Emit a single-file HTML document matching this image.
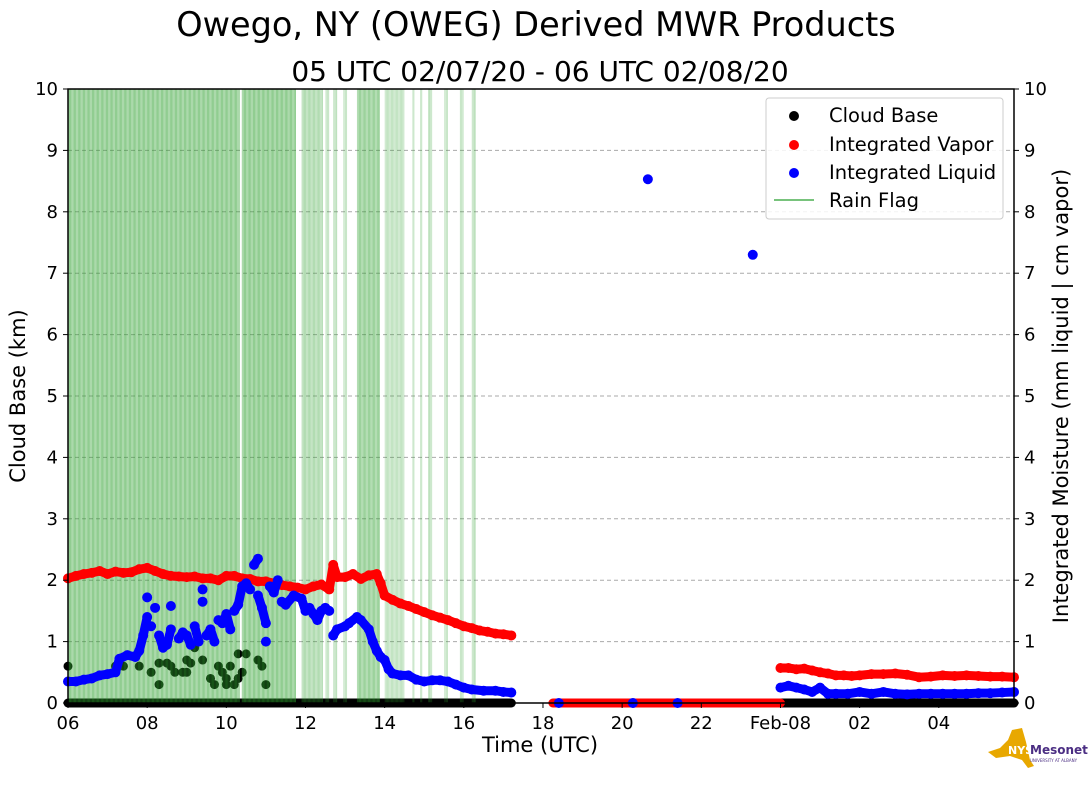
<!DOCTYPE html>
<html><head><meta charset="utf-8"><style>
body{margin:0;background:#fff;}
svg text{font-family:"DejaVu Sans","Liberation Sans",sans-serif;}
</style></head><body>
<svg id="c" width="1089" height="804" xmlns="http://www.w3.org/2000/svg">
<text x="536" y="36" font-size="33.5" text-anchor="middle">Owego, NY (OWEG) Derived MWR Products</text>
<text x="540" y="81" font-size="28" text-anchor="middle">05 UTC 02/07/20 - 06 UTC 02/08/20</text>
<text x="540" y="752" font-size="21" text-anchor="middle">Time (UTC)</text>
<text transform="translate(25,396) rotate(-90)" font-size="21" text-anchor="middle">Cloud Base (km)</text>
<text transform="translate(1068,396) rotate(-90)" font-size="21" text-anchor="middle">Integrated Moisture (mm liquid | cm vapor)</text>
<g id="grid"></g><g id="cb"></g><g id="rain"></g><g id="vap"></g><g id="liq"></g><g id="axes"></g>
<g>
<rect x="766" y="98" width="237" height="121" fill="#fff" fill-opacity="0.85" stroke="#ccc" rx="3"/>
<circle cx="794" cy="116" r="5" fill="#000"/><text x="829" y="122" font-size="19.5">Cloud Base</text>
<circle cx="794" cy="145" r="5" fill="red"/><text x="829" y="151" font-size="19.5">Integrated Vapor</text>
<circle cx="794" cy="173" r="5" fill="blue"/><text x="829" y="179" font-size="19.5">Integrated Liquid</text>
<line x1="774" y1="200" x2="814" y2="200" stroke="#4caf50" stroke-width="1.5"/><text x="829" y="207" font-size="19.5">Rain Flag</text>
</g>
<g>
<polygon points="988,752 1000,748 1008,740 1012,730 1022,728 1026,742 1030,760 1034,766 1028,768 1022,760 1010,756 996,758" fill="#e8a800"/>
<text x="1008" y="754" font-size="11" font-weight="bold" fill="#fff">NYS</text>
<text x="1030" y="754" font-size="12" font-weight="bold" fill="#4b2e83">Mesonet</text>
<text x="1030" y="762" font-size="4" fill="#4b2e83">UNIVERSITY AT ALBANY</text>
</g>
</svg>
<script>
const xTickLabels=["06","08","10","12","14","16","18","20","22","Feb-08","02","04"];
const xTickHours=[6,8,10,12,14,16,18,20,22,24,26,28];
const yTicks=[0,1,2,3,4,5,6,7,8,9,10];
const rainIntervals=[[6.0,10.34,1],[10.39,11.76,1],[11.9,12.44,0.7],[12.5,12.6,0.5],[12.7,12.8,0.6],[12.95,13.05,0.5],[13.3,13.88,0.9],[14.0,14.5,0.55],[14.7,14.75,0.6],[14.9,14.95,0.6],[15.1,15.2,0.6],[15.5,15.6,0.5],[15.9,16.0,0.5],[16.2,16.3,0.6]];
const cbTimes=[6.0,7.2,7.4,7.8,8.1,8.3,8.3,8.5,8.6,8.7,8.9,9.0,9.0,9.1,9.2,9.4,9.6,9.7,9.8,9.9,10.0,10.0,10.1,10.2,10.3,10.3,10.4,10.5,10.8,10.9,11.0];
const cbVals=[0.6,0.6,0.6,0.6,0.5,0.3,0.65,0.65,0.6,0.5,0.5,0.5,0.7,0.65,0.9,0.7,0.4,0.3,0.6,0.5,0.4,0.3,0.6,0.3,0.4,0.8,0.5,0.8,0.7,0.6,0.3];
const cbZeroIntervals=[[6.0,17.2],[24.0,29.9]];
const vapTimes=[6.0,6.2,6.4,6.6,6.8,7.0,7.2,7.4,7.6,7.8,8.0,8.2,8.4,8.6,8.8,9.0,9.2,9.4,9.6,9.8,10.0,10.2,10.4,10.6,10.8,11.0,11.2,11.4,11.6,11.8,12.0,12.2,12.4,12.6,12.7,12.8,13.0,13.2,13.4,13.6,13.8,13.9,14.0,14.2,14.4,14.6,14.8,15.0,15.2,15.4,15.6,15.8,16.0,16.2,16.4,16.6,16.8,17.0,17.2,24.0,24.2,24.4,24.6,24.8,25.0,25.2,25.4,25.6,25.8,26.0,26.3,26.6,26.9,27.2,27.5,27.8,28.1,28.4,28.7,29.0,29.3,29.6,29.9];
const vapVals=[2.03,2.07,2.1,2.12,2.15,2.1,2.14,2.12,2.13,2.18,2.2,2.15,2.1,2.07,2.06,2.05,2.06,2.03,2.03,2.0,2.07,2.07,2.03,2.02,1.98,1.98,1.95,1.92,1.9,1.88,1.85,1.9,1.93,1.85,2.25,2.05,2.05,2.1,2.02,2.08,2.1,1.95,1.75,1.68,1.62,1.58,1.53,1.48,1.43,1.39,1.35,1.3,1.25,1.22,1.18,1.16,1.13,1.12,1.1,0.57,0.57,0.55,0.56,0.53,0.5,0.48,0.45,0.45,0.44,0.45,0.47,0.47,0.48,0.46,0.42,0.43,0.45,0.44,0.45,0.44,0.43,0.43,0.42];
const vapZeroIntervals=[[18.25,24.0]];
const liqTimes=[6.0,6.2,6.4,6.6,6.8,7.0,7.2,7.3,7.5,7.7,7.8,7.9,8.0,8.0,8.1,8.2,8.3,8.4,8.5,8.6,8.6,8.8,8.9,9.0,9.1,9.2,9.3,9.4,9.4,9.5,9.6,9.7,9.8,9.9,10.0,10.1,10.2,10.3,10.4,10.5,10.6,10.7,10.8,10.8,10.9,11.0,11.0,11.1,11.2,11.3,11.4,11.5,11.7,11.9,12.0,12.1,12.2,12.3,12.4,12.5,12.6,12.7,12.8,13.0,13.1,13.3,13.4,13.6,13.7,13.8,13.9,14.0,14.1,14.2,14.4,14.6,14.8,15.0,15.2,15.4,15.6,15.8,16.0,16.2,16.5,16.8,17.0,17.2,18.4,20.27,21.4,20.65,23.3,24.0,24.2,24.4,24.6,24.8,25.0,25.2,25.4,25.7,26.0,26.3,26.6,26.9,27.2,27.5,27.8,28.1,28.4,28.7,29.0,29.3,29.6,29.9];
const liqVals=[0.35,0.35,0.38,0.4,0.45,0.47,0.5,0.72,0.78,0.75,0.85,1.1,1.4,1.72,1.25,1.55,1.1,0.9,0.95,1.2,1.58,1.05,1.15,1.1,0.95,1.25,1.0,1.65,1.85,1.1,1.2,1.0,1.35,1.3,1.45,1.2,1.5,1.6,1.9,1.95,1.85,2.25,2.35,1.75,1.55,1.3,1.0,1.9,1.8,2.0,1.65,1.6,1.75,1.7,1.5,1.55,1.45,1.35,1.5,1.55,1.5,1.1,1.2,1.25,1.3,1.4,1.35,1.2,1.0,0.85,0.75,0.7,0.55,0.48,0.45,0.45,0.38,0.35,0.37,0.37,0.35,0.3,0.25,0.22,0.2,0.2,0.18,0.17,0.0,0.0,0.0,8.53,7.3,0.25,0.28,0.25,0.22,0.18,0.25,0.15,0.15,0.15,0.18,0.15,0.18,0.15,0.14,0.15,0.15,0.15,0.15,0.15,0.16,0.16,0.17,0.18];
const X0=68,X1=1014,Y0=703,Y1=89,H0=6,H1=29.9;
const sx=h=>X0+(h-H0)/(H1-H0)*(X1-X0);
const sy=v=>Y0-(v/10)*(Y0-Y1);
const NS="http://www.w3.org/2000/svg";
function mk(p,t,a){const e=document.createElementNS(NS,t);for(const k in a)e.setAttribute(k,a[k]);p.appendChild(e);return e;}
const grid=document.getElementById('grid'),axes=document.getElementById('axes');
yTicks.forEach(v=>{
 if(v>0&&v<10){const g=mk(grid,'line',{x1:X0,x2:X1,y1:sy(v),y2:sy(v),stroke:'#aaa','stroke-dasharray':'4,3','stroke-width':1});
 
 }
 const l=mk(axes,'text',{x:X0-10,y:sy(v)+6,'font-size':18,'text-anchor':'end'});l.textContent=v;
 
 
 mk(axes,'line',{x1:X0-5,x2:X0,y1:sy(v),y2:sy(v),stroke:'#000'});
 const r=mk(axes,'text',{x:X1+10,y:sy(v)+6,'font-size':18});r.textContent=v;
 
 
 mk(axes,'line',{x1:X1,x2:X1+5,y1:sy(v),y2:sy(v),stroke:'#000'});
});
xTickHours.forEach((h,i)=>{
 mk(axes,'line',{x1:sx(h),x2:sx(h),y1:Y0,y2:Y0+5,stroke:'#000'});
 const t=mk(axes,'text',{x:sx(h),y:Y0+26,'font-size':18,'text-anchor':'middle'});t.textContent=xTickLabels[i];
 
 
});
const fr=mk(axes,'rect',{x:X0,y:Y1,width:X1-X0,height:Y0-Y1,fill:'none',stroke:'#000','stroke-width':1.5});


const defs=mk(document.getElementById('c'),'defs',{});
const pat=mk(defs,'pattern',{id:'stripes',width:4.6,height:10,patternUnits:'userSpaceOnUse'});
mk(pat,'rect',{x:0,y:0,width:4.6,height:10,fill:'rgba(44,160,44,0.4)'});
mk(pat,'rect',{x:0,y:0,width:2.3,height:10,fill:'rgba(44,160,44,0.2)'});
const cb=document.getElementById('cb');
cbZeroIntervals.forEach(iv=>{const l=mk(cb,'line',{x1:sx(iv[0]),x2:sx(iv[1]),y1:sy(0),y2:sy(0),stroke:'#000','stroke-width':9,'stroke-linecap':'round'});
 
 });
cbTimes.forEach((t,i)=>{const c=mk(cb,'circle',{cx:sx(t),cy:sy(cbVals[i]),r:4.5,fill:'#000'});
 
 });
const rain=document.getElementById('rain');
rainIntervals.forEach(iv=>{const r=mk(rain,'rect',{x:sx(iv[0]),y:Y1,width:sx(iv[1])-sx(iv[0]),height:Y0-Y1,fill:'url(#stripes)',opacity:iv[2]});
 
 });
const vap=document.getElementById('vap');
vapZeroIntervals.forEach(iv=>{const l=mk(vap,'line',{x1:sx(iv[0]),x2:sx(iv[1]),y1:sy(0),y2:sy(0),stroke:'red','stroke-width':9,'stroke-linecap':'round'});
 
 });
vapTimes.forEach((t,i)=>{const c=mk(vap,'circle',{cx:sx(t),cy:sy(vapVals[i]),r:5,fill:'red'});
 
 });
for(let i=0;i<vapTimes.length-1;i++){if(vapTimes[i+1]-vapTimes[i]<0.5){const l=mk(vap,'line',{x1:sx(vapTimes[i]),y1:sy(vapVals[i]),x2:sx(vapTimes[i+1]),y2:sy(vapVals[i+1]),stroke:'red','stroke-width':9,'stroke-linecap':'round'});
 
 }}
const liq=document.getElementById('liq');
liqTimes.forEach((t,i)=>{const c=mk(liq,'circle',{cx:sx(t),cy:sy(liqVals[i]),r:5,fill:'blue'});
 
 });
for(let i=0;i<liqTimes.length-1;i++){const dt=liqTimes[i+1]-liqTimes[i];if(dt>0&&dt<0.5&&Math.abs(liqVals[i+1]-liqVals[i])<0.3){const l=mk(liq,'line',{x1:sx(liqTimes[i]),y1:sy(liqVals[i]),x2:sx(liqTimes[i+1]),y2:sy(liqVals[i+1]),stroke:'blue','stroke-width':9,'stroke-linecap':'round'});
 
 }}
</script>
</body></html>
